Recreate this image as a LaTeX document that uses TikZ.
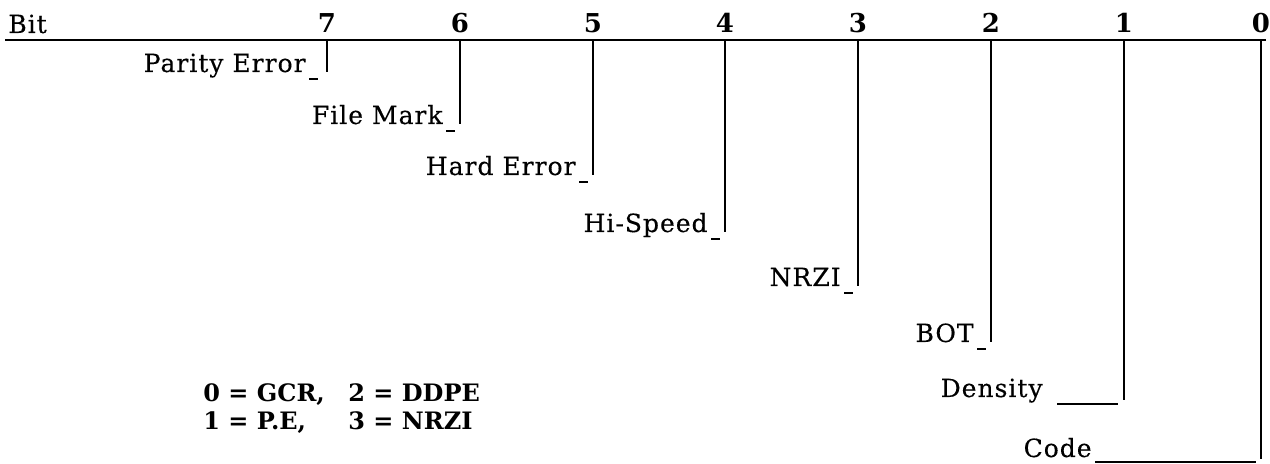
\documentclass[tikz,border=0pt]{standalone}
\usepackage{fontspec}
\setmainfont{DejaVu Serif}
\newfontfamily\labelfont[LetterSpace=4, FakeBold=0.3]{DejaVu Serif}
\usetikzlibrary{positioning}

\begin{document}
\begin{tikzpicture}[x=0.5pt, y=-0.5pt,
  rule/.style={line width=1.2pt},
  bitline/.style={line width=1pt},
  leader/.style={line width=0.7pt},
  bitnum/.style={font=\fontsize{13}{15}\selectfont\bfseries, inner sep=0pt},
  field/.style={font=\labelfont\fontsize{12.5}{14}\selectfont, anchor=base east, inner sep=0pt},
  legend/.style={font=\fontsize{12}{14}\selectfont\bfseries, anchor=base west, inner sep=0pt}
]
  \useasboundingbox (0,0) rectangle (1270,464);

  % Header rule
  \coordinate (lstart) at (5,40);
  \coordinate (lend) at (1266,40);
  \draw[rule] (lstart) -- (lend);
  \node[field, anchor=base west] (bit) at (8,33) {Bit};

  % Bit positions on the rule
  \coordinate (t7) at (327,40);
  \coordinate (t6) at (460,40);
  \coordinate (t5) at (593,40);
  \coordinate (t4) at (725,40);
  \coordinate (t3) at (858,40);
  \coordinate (t2) at (991,40);
  \coordinate (t1) at (1124,40);
  \coordinate (t0) at (1261,40);

  % Bit numbers
  \node[bitnum, above=3.5pt of t7] (b7) {7};
  \node[bitnum, above=3.5pt of t6] (b6) {6};
  \node[bitnum, above=3.5pt of t5] (b5) {5};
  \node[bitnum, above=3.5pt of t4] (b4) {4};
  \node[bitnum, above=3.5pt of t3] (b3) {3};
  \node[bitnum, above=3.5pt of t2] (b2) {2};
  \node[bitnum, above=3.5pt of t1] (b1) {1};
  \node[bitnum, above=3.5pt of t0] (b0) {0};

  % Field labels
  \node[field] (parity) at (306,72) {Parity Error};
  \node[field] (filemark) at (443,124) {File Mark};
  \node[field] (harderror) at (576,175) {Hard Error};
  \node[field] (hispeed) at (708,232) {Hi-Speed};
  \node[field] (nrzi) at (841,286) {NRZI};
  \node[field] (bot) at (974,342) {BOT};
  \node[field] (density) at (1043,397) {Density};
  \node[field] (code) at (1092,457) {Code};

  % Bit lines
  \draw[bitline] (t7) -- (t7 |- parity.base);
  \draw[bitline] (t6) -- (t6 |- filemark.base);
  \draw[bitline] (t5) -- (t5 |- harderror.base);
  \draw[bitline] (t4) -- (t4 |- hispeed.base);
  \draw[bitline] (t3) -- (t3 |- nrzi.base);
  \draw[bitline] (t2) -- (t2 |- bot.base);
  \draw[bitline] (t1) -- ([yshift=-1.5pt]t1 |- density.base);
  \draw[bitline] (t0) -- ([yshift=-1pt]t0 |- code.base);

  % Leaders
  \draw[leader] ([xshift=1.5pt, yshift=-3.5pt]parity.base east) -- ++(4.5pt,0);
  \draw[leader] ([xshift=1.5pt, yshift=-3.5pt]filemark.base east) -- ++(4.5pt,0);
  \draw[leader] ([xshift=1.5pt, yshift=-3.5pt]harderror.base east) -- ++(4.5pt,0);
  \draw[leader] ([xshift=1.5pt, yshift=-3.5pt]hispeed.base east) -- ++(4.5pt,0);
  \draw[leader] ([xshift=1.5pt, yshift=-3.5pt]nrzi.base east) -- ++(4.5pt,0);
  \draw[leader] ([xshift=1.5pt, yshift=-3.5pt]bot.base east) -- ++(4.5pt,0);
  \draw[leader] ([xshift=7pt, yshift=-3.5pt]density.base east) -- ++(30.5pt,0);
  \draw[leader] ([xshift=1.5pt, yshift=-2.5pt]code.base east) -- ++(80.5pt,0);

  % Code legend
  \node[legend] (codes) at (203,402) {%
    \begin{tabular}[t]{@{}p{72.5pt}@{}l@{}}
      0 = GCR, & 2 = DDPE \\
      1 = P.E, & 3 = NRZI
    \end{tabular}};

\end{tikzpicture}
\end{document}
